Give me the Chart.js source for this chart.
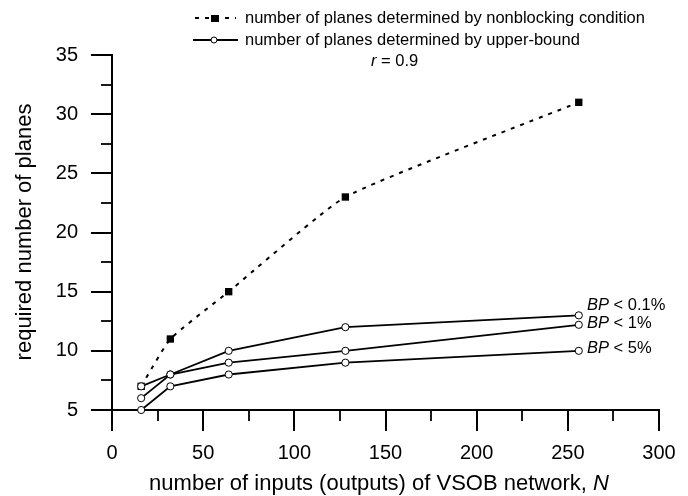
<!DOCTYPE html>
<html>
<head>
<meta charset="utf-8">
<script src="https://cdn.jsdelivr.net/npm/chart.js@4.4.0/dist/chart.umd.min.js"></script>
<style>
  html, body { margin: 0; padding: 0; background: #fff; }
  #wrap { width: 688px; height: 496px; }
</style>
</head>
<body>
<div id="wrap"><canvas id="c" width="688" height="496"></canvas></div>
<script>
// ---- data ----
const N = [16, 32, 64, 128, 256];
const nonblocking = [7, 11, 15, 23, 31];
const bp01 = [7, 8, 10, 12, 13];
const bp1 = [6, 8, 9, 10, 12.2];
const bp5 = [5, 7, 8, 9, 10];
const xTicks = [0, 50, 100, 150, 200, 250, 300];
const yTicks = [5, 10, 15, 20, 25, 30, 35];
const xMinor = [25, 75, 125, 175, 225, 275];
const yMinor = [7.5, 12.5, 17.5, 22.5, 27.5, 32.5];
const bpLabels = ['< 0.1%', '< 1%', '< 5%'];
const legendLabels = ['number of planes determined by nonblocking condition',
                      'number of planes determined by upper-bound'];

const FONT = '"Liberation Sans", Arial, sans-serif';
const pts = arr => N.map((n, i) => ({x: n, y: arr[i]}));

function ubDataset(arr) {
  return {
    data: pts(arr), showLine: true, borderColor: '#000', borderWidth: 1.8,
    pointStyle: 'circle', pointRadius: 3.6, pointBorderWidth: 1,
    pointBackgroundColor: '#fff', pointBorderColor: '#000', tension: 0, clip: false
  };
}

function drawRich(ctx, parts, x, y, align) {
  let total = 0;
  parts.forEach(p => { ctx.font = (p.it ? 'italic ' : '') + p.size + 'px ' + FONT; p.w = ctx.measureText(p.t).width; total += p.w; });
  let cx = align === 'center' ? x - total / 2 : x;
  ctx.textAlign = 'left'; ctx.textBaseline = 'middle';
  parts.forEach(p => { ctx.font = (p.it ? 'italic ' : '') + p.size + 'px ' + FONT; ctx.fillText(p.t, cx, y); cx += p.w; });
}

const decor = {
  id: 'decor',
  afterDraw(chart) {
    const ctx = chart.ctx, xs = chart.scales.x, ys = chart.scales.y;
    ctx.save();
    ctx.strokeStyle = '#000'; ctx.fillStyle = '#000';
    // minor ticks
    ctx.lineWidth = 1.8;
    xMinor.forEach(v => { const px = Math.round(xs.getPixelForValue(v)); ctx.beginPath(); ctx.moveTo(px, ys.bottom); ctx.lineTo(px, ys.bottom + 11); ctx.stroke(); });
    yMinor.forEach(v => { const py = Math.round(ys.getPixelForValue(v)); ctx.beginPath(); ctx.moveTo(xs.left, py); ctx.lineTo(xs.left - 11, py); ctx.stroke(); });

    // legend
    ctx.lineWidth = 2; ctx.setLineDash([4, 6]);
    ctx.beginPath(); ctx.moveTo(195, 18); ctx.lineTo(236, 18); ctx.stroke();
    ctx.setLineDash([]);
    ctx.fillRect(211, 15, 8, 7);
    ctx.lineWidth = 1.8;
    ctx.beginPath(); ctx.moveTo(193, 40); ctx.lineTo(238, 40); ctx.stroke();
    ctx.beginPath(); ctx.arc(214, 40, 3, 0, Math.PI * 2); ctx.fillStyle = '#fff'; ctx.fill(); ctx.lineWidth = 1; ctx.stroke();
    ctx.fillStyle = '#000';
    drawRich(ctx, [{t: legendLabels[0], size: 16.5}], 245, 18, 'left');
    drawRich(ctx, [{t: legendLabels[1], size: 16.5}], 245, 40, 'left');
    drawRich(ctx, [{t: 'r', it: true, size: 16.5}, {t: ' = 0.9', size: 16.5}], 371, 61, 'left');

    // BP labels next to last points
    const bpY = [305, 323, 348];
    bpLabels.forEach((lab, i) => {
      drawRich(ctx, [{t: 'BP', it: true, size: 16.5}, {t: ' ' + lab, size: 16.5}], 587, bpY[i], 'left');
    });

    // axis titles
    drawRich(ctx, [{t: 'number of inputs (outputs) of VSOB network, ', size: 22}, {t: 'N', it: true, size: 22}], 379, 484, 'center');
    ctx.translate(25, 232); ctx.rotate(-Math.PI / 2);
    drawRich(ctx, [{t: 'required number of planes', size: 22}], 0, 0, 'center');
    ctx.restore();
  }
};

new Chart(document.getElementById('c'), {
  type: 'scatter',
  data: {
    datasets: [
      ubDataset(bp01), ubDataset(bp1), ubDataset(bp5),
      {
        data: pts(nonblocking), showLine: true, borderColor: '#000', borderWidth: 2,
        borderDash: [4, 6], pointStyle: 'rect', pointRadius: 5.2,
        pointBackgroundColor: '#000', pointBorderColor: '#000', pointBorderWidth: 0, tension: 0.15, clip: false
      }
    ]
  },
  options: {
    responsive: false, animation: false, devicePixelRatio: 1,
    layout: { padding: { top: 55, right: 29, left: 0, bottom: 0 } },
    plugins: { legend: { display: false }, tooltip: { enabled: false }, title: { display: false } },
    scales: {
      x: {
        type: 'linear', min: 0, max: 300,
        afterFit(s) { s.height = 86; },
        afterBuildTicks(s) { s.ticks = xTicks.map(v => ({value: v})); },
        border: { color: '#000', width: 2 },
        grid: { drawOnChartArea: false, drawTicks: true, tickLength: 21, color: '#000', lineWidth: 2 },
        ticks: { color: '#000', font: { family: FONT, size: 20 }, padding: 10, maxRotation: 0 }
      },
      y: {
        type: 'linear', min: 5, max: 35,
        afterFit(s) { s.width = 112; },
        afterBuildTicks(s) { s.ticks = yTicks.map(v => ({value: v})); },
        border: { color: '#000', width: 2 },
        grid: { drawOnChartArea: false, drawTicks: true, tickLength: 21, color: '#000', lineWidth: 2 },
        ticks: { color: '#000', font: { family: FONT, size: 20 }, padding: 13 }
      }
    }
  },
  plugins: [decor]
});
</script>
</body>
</html>
